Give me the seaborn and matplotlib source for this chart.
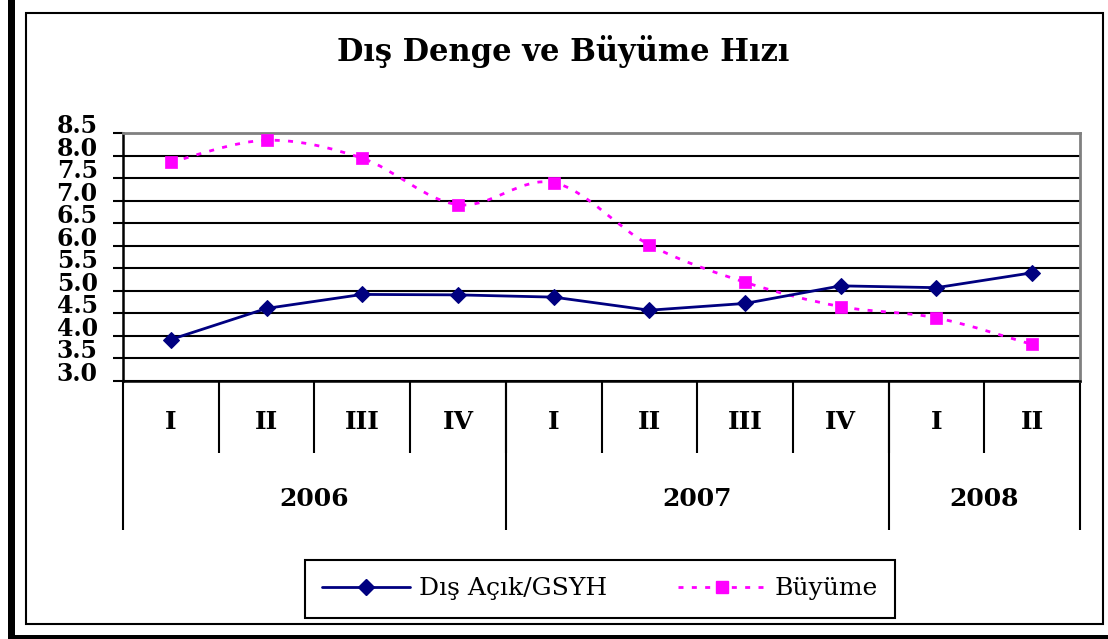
import numpy as np
import pandas as pd
import matplotlib.pyplot as plt
import seaborn as sns
from matplotlib.path import Path
from matplotlib.patches import PathPatch, Rectangle
from matplotlib.lines import Line2D

# data
quarters = ['I', 'II', 'III', 'IV', 'I', 'II', 'III', 'IV', 'I', 'II']
years = ['2006', '2007', '2008']
quarters_per_year = [4, 4, 2]
dis_acik = [3.92, 4.61, 4.92, 4.91, 4.86, 4.57, 4.72, 5.11, 5.07, 5.40]
buyume = [7.85, 8.34, 7.94, 6.91, 7.40, 6.02, 5.19, 4.65, 4.40, 3.81]
y_ticks = [3.0, 3.5, 4.0, 4.5, 5.0, 5.5, 6.0, 6.5, 7.0, 7.5, 8.0, 8.5]

NAVY = '#000080'
PINK = '#FF00FF'
DOTS = (0, (1.8, 3))


def smooth_path(xs, ys):
    # excel style smoothed line: catmull-rom turned into bezier segments
    pts = np.column_stack([xs, ys]).astype(float)
    p = np.vstack([pts[0], pts, pts[-1]])
    verts = [pts[0]]
    codes = [Path.MOVETO]
    for i in range(len(pts) - 1):
        p0, p1, p2, p3 = p[i], p[i + 1], p[i + 2], p[i + 3]
        verts += [p1 + (p2 - p0) / 6, p2 - (p3 - p1) / 6, p2]
        codes += [Path.CURVE4] * 3
    return Path(verts, codes)


sns.set_style('white')
plt.rcParams['font.family'] = ['DejaVu Serif']
plt.rcParams['text.color'] = 'black'
plt.rcParams['xtick.color'] = 'black'
plt.rcParams['ytick.color'] = 'black'

W, H = 1108, 639
fig = plt.figure(figsize=(W / 100, H / 100), dpi=100)
ax = fig.add_axes([123 / W, 1 - 381 / H, (1080 - 123) / W, (381 - 133) / H])

pos = np.arange(len(quarters))
df = pd.DataFrame({'pos': pos, 'dis_acik': dis_acik, 'buyume': buyume})

# blue series
sns.lineplot(data=df, x='pos', y='dis_acik', color=NAVY, lw=2, marker='D',
             markersize=8, markeredgecolor=NAVY, ax=ax, zorder=4)
# pink series: smoothed dotted line + square markers
ax.add_patch(PathPatch(smooth_path(pos, buyume), fill=False, edgecolor=PINK,
                       lw=2, linestyle=DOTS, zorder=3))
sns.scatterplot(data=df, x='pos', y='buyume', color=PINK, marker='s', s=85,
                edgecolor=PINK, linewidth=0.5, ax=ax, zorder=5)

ax.set_xlim(-0.5, len(quarters) - 0.5)
ax.set_ylim(y_ticks[0], y_ticks[-1])
ax.set_xlabel('')
ax.set_ylabel('')

# y axis
ax.set_yticks(y_ticks)
ax.set_yticklabels([f'{v:.1f}' for v in y_ticks])
ax.tick_params(axis='y', left=True, length=7.2, width=1.5, pad=11, labelsize=17,
               color='black', labelcolor='black')
plt.setp(ax.get_yticklabels(), fontweight='bold', va='baseline')
ax.yaxis.grid(True, color='black', lw=1.5)
ax.set_axisbelow(True)

# quarter labels and separators
ax.set_xticks(pos)
ax.set_xticklabels(quarters)
ax.tick_params(axis='x', which='major', bottom=True, length=0, pad=21, labelsize=18,
               labelcolor='black')
plt.setp(ax.get_xticklabels(), fontweight='bold')
ax.set_xticks(np.arange(0.5, len(quarters) - 1, 1), minor=True)
ax.tick_params(axis='x', which='minor', bottom=True, length=51.8, width=1.5,
               color='black', direction='out')

# year separators
bounds = np.concatenate([[0], np.cumsum(quarters_per_year)]) - 0.5
sec = ax.secondary_xaxis('bottom')
sec.set_xticks(bounds)
sec.set_xticklabels([''] * len(bounds))
sec.tick_params(bottom=True, length=107, width=1.5, color='black', direction='out')
sec.spines['bottom'].set_visible(False)

# year labels
centers = (bounds[:-1] + bounds[1:]) / 2
sec2 = ax.secondary_xaxis('bottom')
sec2.set_xticks(centers)
sec2.set_xticklabels(years)
sec2.tick_params(length=0, pad=76, labelsize=18, labelcolor='black')
plt.setp(sec2.get_xticklabels(), fontweight='bold')
sec2.spines['bottom'].set_visible(False)

for side in ['top', 'right']:
    ax.spines[side].set_color('#808080')
    ax.spines[side].set_linewidth(2)
for side in ['left', 'bottom']:
    ax.spines[side].set_color('black')
    ax.spines[side].set_linewidth(1.8)

fig.text(563 / W, 1 - 52 / H, 'Dış Denge ve Büyüme Hızı', ha='center', va='center',
         fontsize=22, fontweight='bold')

handles = [
    Line2D([], [], color=NAVY, lw=2, marker='D', markersize=8),
    Line2D([], [], color=PINK, lw=2, linestyle=DOTS, marker='s', markersize=8.5),
]
leg = fig.legend(handles, ['Dış Açık/GSYH', 'Büyüme'], loc='upper left',
                 bbox_to_anchor=(305 / W, 1 - 560 / H, 590 / W, 0.0), mode='expand',
                 ncol=2, fontsize=18, frameon=True, fancybox=False, framealpha=1,
                 edgecolor='black', handlelength=3.5, numpoints=1, borderpad=0.69,
                 borderaxespad=0, columnspacing=0.5, handletextpad=0.35)
leg.get_frame().set_linewidth(1.5)

# chart frame and the thick page border
fig.patches.append(Rectangle((26 / W, 1 - 624 / H), (1103 - 26) / W, (624 - 13) / H,
                             fill=False, lw=1.5, edgecolor='black', transform=fig.transFigure))
fig.patches.append(Rectangle((8 / W, 0), 7 / W, 1, color='black', lw=0, transform=fig.transFigure))
fig.patches.append(Rectangle((8 / W, 0), 1, 4 / H, color='black', lw=0, transform=fig.transFigure))

fig.savefig('out.png', dpi=100)
